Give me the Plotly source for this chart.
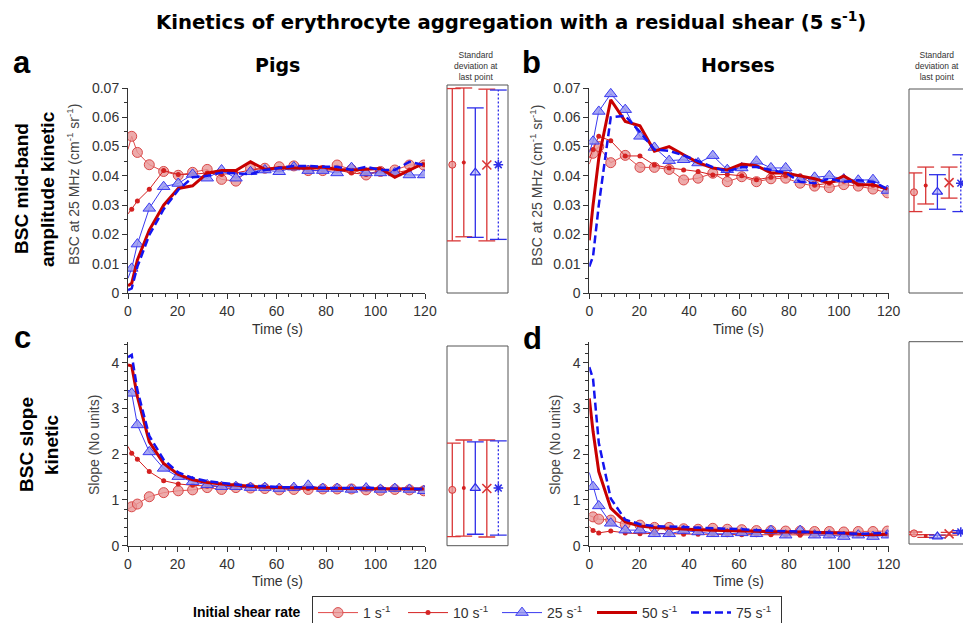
import plotly.graph_objects as go

W, H = 963, 623

# ---------------- data ----------------
time_s = [0, 1.5, 3.8, 8.6, 14.4, 20.3, 26.1, 32.0, 37.8, 43.6, 49.5, 55.3,
          61.1, 67.0, 72.8, 78.7, 84.5, 90.3, 96.2, 102.0, 107.8, 113.7, 119.5]

series_names = ["1 s<sup>-1</sup>", "10 s<sup>-1</sup>", "25 s<sup>-1</sup>",
                "50 s<sup>-1</sup>", "75 s<sup>-1</sup>"]

# Pigs, BSC at 25 MHz
pigs_bsc_1 = [0.049, 0.0535, 0.048, 0.0438, 0.0415, 0.0402, 0.0412, 0.0422, 0.0388, 0.0382, 0.0425, 0.0426,
              0.0431, 0.0434, 0.0418, 0.0418, 0.0437, 0.0422, 0.0403, 0.0415, 0.042, 0.0437, 0.0437]
pigs_bsc_10 = [0.027, 0.0286, 0.0314, 0.0354, 0.0418, 0.0405, 0.0405, 0.041, 0.0405, 0.041, 0.042, 0.0425,
               0.0425, 0.043, 0.042, 0.042, 0.042, 0.041, 0.0405, 0.0418, 0.041, 0.042, 0.0438]
pigs_bsc_25 = [0.005, 0.0084, 0.0167, 0.0289, 0.0363, 0.0374, 0.0405, 0.0392, 0.042, 0.0392, 0.0414, 0.042,
               0.0414, 0.043, 0.0418, 0.0418, 0.041, 0.0428, 0.041, 0.041, 0.041, 0.0403, 0.0403]
pigs_bsc_50 = [0.0025, 0.0033, 0.0113, 0.0215, 0.030, 0.0357, 0.0366, 0.0409, 0.0418, 0.0418, 0.0448, 0.0422,
               0.0428, 0.0428, 0.0426, 0.043, 0.0422, 0.042, 0.0422, 0.0425, 0.0395, 0.042, 0.0443]
pigs_bsc_75 = [0.001, 0.0016, 0.009, 0.0198, 0.0286, 0.0352, 0.0395, 0.040, 0.0411, 0.0409, 0.0406, 0.042,
               0.0428, 0.0434, 0.0434, 0.0431, 0.0431, 0.042, 0.0431, 0.042, 0.042, 0.0448, 0.0437]

# Horses, BSC at 25 MHz
horses_bsc_1 = [0.044, 0.0477, 0.050, 0.0445, 0.047, 0.0429, 0.0429, 0.0422, 0.0386, 0.0392, 0.0409, 0.038,
                0.0397, 0.038, 0.039, 0.0392, 0.0375, 0.0365, 0.036, 0.037, 0.0365, 0.0355, 0.0342]
horses_bsc_10 = [0.046, 0.049, 0.0535, 0.052, 0.0468, 0.0468, 0.0437, 0.0427, 0.042, 0.0415, 0.0403, 0.0405,
                 0.040, 0.0387, 0.0395, 0.040, 0.040, 0.0368, 0.0375, 0.0382, 0.0372, 0.0368, 0.035]
horses_bsc_25 = [0.048, 0.0518, 0.062, 0.068, 0.0626, 0.0535, 0.0497, 0.0452, 0.0455, 0.0444, 0.0469, 0.0421,
                 0.0427, 0.045, 0.0427, 0.0427, 0.0387, 0.0395, 0.040, 0.0389, 0.0385, 0.0387, 0.035]
horses_bsc_50 = [0.018, 0.030, 0.046, 0.066, 0.0586, 0.0571, 0.0484, 0.050, 0.0472, 0.0445, 0.0427, 0.042,
                 0.044, 0.0435, 0.041, 0.041, 0.040, 0.039, 0.0375, 0.040, 0.037, 0.037, 0.0355]
horses_bsc_75 = [0.009, 0.0125, 0.030, 0.060, 0.0605, 0.055, 0.049, 0.0485, 0.047, 0.045, 0.043, 0.0415,
                 0.043, 0.043, 0.042, 0.041, 0.038, 0.0375, 0.039, 0.038, 0.0385, 0.038, 0.0355]

# Pigs, BSC slope
pigs_slope_1 = [0.8, 0.85, 0.91, 1.07, 1.16, 1.2, 1.22, 1.27, 1.23, 1.27, 1.26, 1.25,
                1.22, 1.23, 1.23, 1.24, 1.24, 1.24, 1.22, 1.21, 1.23, 1.22, 1.2]
pigs_slope_10 = [2.17, 2.02, 1.89, 1.62, 1.42, 1.35, 1.32, 1.3, 1.29, 1.28, 1.28, 1.27,
                 1.26, 1.25, 1.25, 1.25, 1.25, 1.25, 1.24, 1.24, 1.24, 1.24, 1.24]
pigs_slope_25 = [3.4, 3.33, 2.64, 2.05, 1.69, 1.51, 1.4, 1.33, 1.29, 1.29, 1.27, 1.27,
                 1.25, 1.27, 1.32, 1.25, 1.25, 1.23, 1.26, 1.23, 1.25, 1.23, 1.2]
pigs_slope_50 = [3.95, 3.93, 3.26, 2.27, 1.8, 1.56, 1.44, 1.38, 1.35, 1.32, 1.3, 1.28,
                 1.27, 1.26, 1.26, 1.25, 1.25, 1.25, 1.24, 1.24, 1.24, 1.24, 1.24]
pigs_slope_75 = [4.12, 4.17, 3.4, 2.4, 1.88, 1.6, 1.48, 1.41, 1.37, 1.34, 1.31, 1.3,
                 1.28, 1.28, 1.27, 1.27, 1.26, 1.26, 1.27, 1.25, 1.25, 1.25, 1.24]

# Horses, BSC slope
horses_slope_1 = [0.66, 0.63, 0.58, 0.56, 0.47, 0.45, 0.4, 0.4, 0.37, 0.36, 0.38, 0.36,
                  0.35, 0.33, 0.33, 0.32, 0.32, 0.31, 0.31, 0.3, 0.31, 0.31, 0.32]
horses_slope_10 = [0.42, 0.33, 0.28, 0.32, 0.28, 0.26, 0.27, 0.26, 0.25, 0.25, 0.25, 0.24,
                   0.24, 0.24, 0.24, 0.23, 0.23, 0.23, 0.23, 0.23, 0.23, 0.23, 0.23]
horses_slope_25 = [1.6, 1.29, 0.87, 0.49, 0.34, 0.34, 0.26, 0.26, 0.33, 0.3, 0.26, 0.26,
                   0.28, 0.26, 0.33, 0.23, 0.33, 0.23, 0.23, 0.2, 0.23, 0.2, 0.23]
horses_slope_50 = [3.22, 2.5, 1.62, 0.82, 0.52, 0.43, 0.4, 0.38, 0.36, 0.35, 0.34, 0.33,
                   0.33, 0.32, 0.31, 0.3, 0.3, 0.29, 0.28, 0.28, 0.25, 0.24, 0.25]
horses_slope_75 = [3.9, 3.65, 2.25, 1.03, 0.57, 0.47, 0.43, 0.42, 0.4, 0.4, 0.38, 0.37,
                   0.36, 0.34, 0.33, 0.32, 0.31, 0.3, 0.29, 0.28, 0.26, 0.27, 0.28]

# Standard deviation at last point (mean, SD) per initial shear rate
sd_positions = [1, 2, 3, 4, 5]
pigs_bsc_last_mean = [0.0438, 0.0446, 0.0411, 0.0437, 0.0438]
pigs_bsc_last_sd = [0.0260, 0.0254, 0.0221, 0.0259, 0.0255]
horses_bsc_last_mean = [0.0344, 0.0367, 0.0345, 0.0377, 0.0375]
horses_bsc_last_sd = [0.0066, 0.0063, 0.0059, 0.0053, 0.0097]
pigs_slope_last_mean = [1.22, 1.26, 1.26, 1.25, 1.26]
pigs_slope_last_sd = [1.02, 1.05, 1.01, 1.06, 1.03]
horses_slope_last_mean = [0.27, 0.21, 0.20, 0.26, 0.30]
horses_slope_last_sd = [0.03, 0.03, 0.03, 0.03, 0.03]

# ---------------- helpers (pixel -> paper) ----------------
def fx(px):
    return px / W


def fy(py):
    return 1 - py / H


FONT = "Liberation Sans, Arial, sans-serif"
TITLE_FONT = "DejaVu Sans, Verdana, sans-serif"
AX = "#333333"

line_styles = [
    dict(mode="lines+markers", line=dict(color="#e04848", width=1),
         marker=dict(symbol="circle", size=10, color="rgba(232,150,150,0.8)",
                     line=dict(color="#d94848", width=1))),
    dict(mode="lines+markers", line=dict(color="#d42020", width=1),
         marker=dict(symbol="circle", size=5, color="#d42020", line=dict(width=0))),
    dict(mode="lines+markers", line=dict(color="#3a3af0", width=1),
         marker=dict(symbol="triangle-up", size=11, color="rgba(150,150,240,0.85)",
                     line=dict(color="#3a3af0", width=1))),
    dict(mode="lines", line=dict(color="#c80000", width=3)),
    dict(mode="lines", line=dict(color="#1414f0", width=2.5, dash="8px,4px")),
]
legend_widths = [35, 39, 40, 39, 40]

sd_colors = ["#d93636", "#d93636", "#2e2ee8", "#d93636", "#2e2ee8"]
sd_dash = ["solid", "solid", "solid", "solid", "2px,2px"]
sd_center = [
    dict(symbol="circle", size=7, color="rgba(232,150,150,0.8)", line=dict(color="#d93636", width=1)),
    dict(symbol="circle", size=4, color="#d42020", line=dict(width=0)),
    dict(symbol="triangle-up", size=9, color="rgba(170,170,245,0.6)", line=dict(color="#2e2ee8", width=1.2)),
    dict(symbol="x-thin-open", size=9, color="#d93636", line=dict(color="#d93636", width=1.6)),
    dict(symbol="asterisk-open", size=8, color="#2e2ee8", line=dict(color="#2e2ee8", width=1.5)),
]

fig = go.Figure()

panels = [
    ("x", "y", [pigs_bsc_1, pigs_bsc_10, pigs_bsc_25, pigs_bsc_50, pigs_bsc_75], True),
    ("x2", "y2", [horses_bsc_1, horses_bsc_10, horses_bsc_25, horses_bsc_50, horses_bsc_75], False),
    ("x3", "y3", [pigs_slope_1, pigs_slope_10, pigs_slope_25, pigs_slope_50, pigs_slope_75], False),
    ("x4", "y4", [horses_slope_1, horses_slope_10, horses_slope_25, horses_slope_50, horses_slope_75], False),
]

for xa, ya, series, show in panels:
    for i, vals in enumerate(series):
        st = line_styles[i]
        kw = dict(x=time_s, y=vals, xaxis=xa, yaxis=ya, name=series_names[i],
                  legendgroup=str(i), showlegend=show, mode=st["mode"], line=st["line"],
                  legendwidth=legend_widths[i], hoverinfo="skip")
        if "marker" in st:
            m = dict(st["marker"])
            m["opacity"] = [0] + [1] * (len(vals) - 1)
            kw["marker"] = m
        fig.add_trace(go.Scatter(**kw))

sd_boxes = [
    ("x5", "y5", pigs_bsc_last_mean, pigs_bsc_last_sd),
    ("x6", "y6", horses_bsc_last_mean, horses_bsc_last_sd),
    ("x7", "y7", pigs_slope_last_mean, pigs_slope_last_sd),
    ("x8", "y8", horses_slope_last_mean, horses_slope_last_sd),
]
for xa, ya, means, sds in sd_boxes:
    for i, (p, m, s) in enumerate(zip(sd_positions, means, sds)):
        c = sd_colors[i]
        fig.add_trace(go.Scatter(
            x=[p, p], y=[m - s, m + s], xaxis=xa, yaxis=ya, mode="lines+markers",
            line=dict(color=c, width=1.3, dash=sd_dash[i]),
            marker=dict(symbol="line-ew-open", size=12, color=c, line=dict(color=c, width=1.3)),
            showlegend=False, hoverinfo="skip"))
        fig.add_trace(go.Scatter(
            x=[p], y=[m], xaxis=xa, yaxis=ya, mode="markers", marker=sd_center[i],
            showlegend=False, hoverinfo="skip"))


def xmain(dom, anchor):
    return dict(domain=dom, anchor=anchor, range=[0, 120], tick0=0, dtick=20,
                ticks="outside", ticklen=5, tickwidth=1, tickcolor=AX,
                showline=True, linecolor=AX, linewidth=1, showgrid=False, zeroline=False,
                tickfont=dict(size=14, color=AX, family=FONT), automargin=False,
                minor=dict(ticks="outside", ticklen=3, tick0=0, dtick=5, tickcolor=AX, showgrid=False),
                fixedrange=True)


def ymain(dom, anchor, rng, dt, mdt):
    return dict(domain=dom, anchor=anchor, range=rng, tick0=0, dtick=dt,
                ticks="outside", ticklen=5, tickwidth=1, tickcolor=AX,
                showline=True, linecolor=AX, linewidth=1, showgrid=False, zeroline=False,
                tickfont=dict(size=14, color=AX, family=FONT), automargin=False,
                minor=dict(ticks="outside", ticklen=3, tick0=0, dtick=mdt, tickcolor=AX, showgrid=False),
                fixedrange=True)


def hidden(dom, anchor, rng):
    return dict(domain=dom, anchor=anchor, range=rng, visible=False, fixedrange=True)


top_dom = [fy(293), fy(88)]
bot_dom = [fy(545.7), fy(342.1)]
left_x = [fx(128), fx(425)]
right_x = [fx(589.3), fx(888.7)]

fig.update_layout(
    xaxis=xmain(left_x, "y"),
    yaxis=ymain(top_dom, "x", [0, 0.07], 0.01, 0.005),
    xaxis2=xmain(right_x, "y2"),
    yaxis2=ymain(top_dom, "x2", [0, 0.07], 0.01, 0.005),
    xaxis3=xmain(left_x, "y3"),
    yaxis3=ymain(bot_dom, "x3", [0, 4.45], 1, 0.2),
    xaxis4=xmain(right_x, "y4"),
    yaxis4=ymain(bot_dom, "x4", [0, 4.45], 1, 0.2),
    xaxis5=hidden([fx(447), fx(508)], "y5", [0.54, 5.84]),
    yaxis5=hidden([fy(293), fy(85)], "x5", [0, 0.07102]),
    xaxis6=hidden([fx(909), 1.0], "y6", [0.573, 5.188]),
    yaxis6=hidden([fy(293), fy(89)], "x6", [0, 0.06966]),
    xaxis7=hidden([fx(447), fx(508)], "y7", [0.54, 5.84]),
    yaxis7=hidden([fy(545.7), fy(346)], "x7", [0, 4.365]),
    xaxis8=hidden([fx(909), 1.0], "y8", [0.573, 5.188]),
    yaxis8=hidden([fy(545.7), fy(341.7)], "x8", [0, 4.46]),
)

# SD box frames
for x0, y0, x1, y1 in [(447, 85, 508, 293), (909, 89, 980, 293),
                       (447, 346, 508, 545.7), (909, 341.7, 980, 544)]:
    fig.add_shape(type="rect", xref="paper", yref="paper",
                  x0=fx(x0), x1=fx(x1), y0=fy(y1), y1=fy(y0),
                  line=dict(color="#555555", width=1), fillcolor="rgba(0,0,0,0)", layer="below")

ann = []


def add_text(text, x, y, size, color="#000000", family=FONT, angle=0, xanchor="center", yanchor="middle"):
    ann.append(dict(text=text, x=fx(x), y=fy(y), xref="paper", yref="paper", showarrow=False,
                    font=dict(size=size, color=color, family=family), textangle=angle,
                    xanchor=xanchor, yanchor=yanchor))


add_text("<b>Kinetics of erythrocyte aggregation with a residual shear (5 s<sup>-1</sup>)</b>",
         511, 21, 19.7, family=TITLE_FONT)
add_text("<b>Pigs</b>", 277, 65, 19, family=TITLE_FONT)
add_text("<b>Horses</b>", 738, 65, 19, family=TITLE_FONT)
add_text("<b>a</b>", 22, 62, 31)
add_text("<b>b</b>", 531, 62, 31)
add_text("<b>c</b>", 22, 337, 31)
add_text("<b>d</b>", 532, 338, 31)

for cx in (476, 937):
    add_text("Standard<br>deviation at<br>last point", cx, 66, 8.5, color="#333")

add_text("<b>BSC mid-band</b>", 21, 189, 19, angle=-90)
add_text("<b>amplitude kinetic</b>", 47, 189, 19, angle=-90)
add_text("<b>BSC slope</b>", 26, 445, 19, angle=-90)
add_text("<b>kinetic</b>", 51, 445, 19, angle=-90)

ytitle_bsc = "BSC at 25 MHz (cm<sup>-1</sup> sr<sup>-1</sup>)"
add_text(ytitle_bsc, 73, 185, 14, color="#444", angle=-90)
add_text(ytitle_bsc, 536, 186, 14, color="#444", angle=-90)
add_text("Slope (No units)", 94, 445, 14, color="#444", angle=-90)
add_text("Slope (No units)", 555, 445, 14, color="#444", angle=-90)

for cx in (277, 738):
    add_text("Time (s)", cx, 329, 14, color=AX)
    add_text("Time (s)", cx, 581, 14, color=AX)

add_text("<b>Initial shear rate</b>", 303, 612, 14, xanchor="right")

fig.update_layout(
    annotations=ann,
    width=W, height=H, autosize=False,
    margin=dict(l=0, r=0, t=0, b=0, pad=0, autoexpand=False),
    paper_bgcolor="white", plot_bgcolor="white",
    font=dict(family=FONT, size=14, color=AX),
    showlegend=True,
    legend=dict(orientation="h", x=fx(312), y=fy(596), xanchor="left", yanchor="top",
                bordercolor="#333", borderwidth=1, bgcolor="white",
                font=dict(size=14, color=AX, family=FONT),
                itemwidth=40, traceorder="normal",
                itemsizing="trace", tracegroupgap=0),
    hovermode=False,
)

fig.write_html("out.html", config={"displayModeBar": False},
               post_script="document.body.style.margin='0px';document.body.style.overflow='hidden';")
